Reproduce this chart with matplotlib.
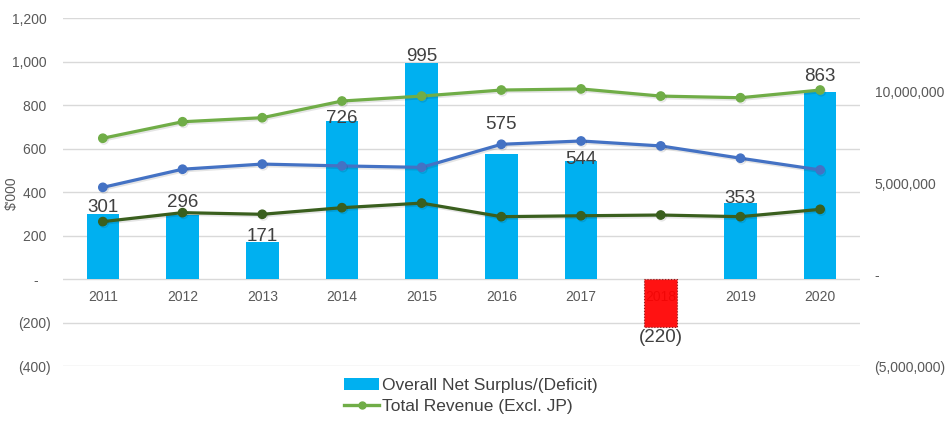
import matplotlib
matplotlib.use('Agg')
import matplotlib.pyplot as plt
import matplotlib.patheffects as pe
from matplotlib.patches import Patch
from matplotlib.lines import Line2D

# ---------------- data ----------------
years = ['2011', '2012', '2013', '2014', '2015', '2016', '2017', '2018', '2019', '2020']
net_surplus = [301, 296, 171, 726, 995, 575, 544, -220, 353, 863]          # $'000 (left axis)
total_revenue = [7.45e6, 8.35e6, 8.57e6, 9.48e6, 9.75e6, 10.08e6, 10.14e6, 9.75e6, 9.66e6, 10.08e6]
blue_series = [4.77e6, 5.76e6, 6.04e6, 5.94e6, 5.86e6, 7.12e6, 7.30e6, 7.03e6, 6.36e6, 5.72e6]
dark_series = [2.90e6, 3.39e6, 3.30e6, 3.66e6, 3.91e6, 3.17e6, 3.22e6, 3.26e6, 3.17e6, 3.57e6]
left_ticks = [-400, -200, 0, 200, 400, 600, 800, 1000, 1200]
right_ticks = [-5e6, 0, 5e6, 10e6]
bar_label = 'Overall Net Surplus/(Deficit)'
rev_label = 'Total Revenue (Excl. JP)'

# label offsets (pixels, layout only)
label_dy_px = [0, 7, 0, -3, 0, 24, -4, 0, -2, 9]

TICKF = ['Liberation Sans', 'DejaVu Sans']
REG = ['Liberation Sans', 'DejaVu Sans']
GRAY = '#595959'
DARK = '#404040'

fig = plt.figure(figsize=(9.47, 4.26), dpi=100)
ax = fig.add_axes([63/947, 1 - 366.4/426, 797/947, 348.2/426])
ax2 = ax.twinx()

x = list(range(len(years)))
colors = ['#FF0000' if v < 0 else '#00B0F0' for v in net_surplus]
bars = ax.bar(x, net_surplus, width=0.41, color=colors, zorder=3)
for b, v in zip(bars, net_surplus):
    if v < 0:
        b.set_edgecolor('#7a1a1a')
        b.set_linestyle(':')
        b.set_linewidth(0.8)
        b.set_alpha(0.93)

ax.set_xlim(-0.5, len(years) - 0.5)
ax.set_ylim(-400, 1200)
ax.set_yticks(left_ticks)

def lfmt(v):
    if v == 0:
        return '-   '
    if v < 0:
        return '({:,.0f})'.format(-v)
    return '{:,.0f} '.format(v)

ax.set_yticklabels([lfmt(v) for v in left_ticks], fontfamily=TICKF, fontsize=10, color=GRAY)
ax.tick_params(axis='y', length=0, pad=9)
ax.set_xticks([])
ax.grid(axis='y', color='#D9D9D9', linewidth=1)
ax.set_axisbelow(True)
for s in ax.spines.values():
    s.set_visible(False)

# year labels under the zero line
for i, yr in enumerate(years):
    ax.annotate(yr, (i, 0), xytext=(0, -8), textcoords='offset points',
                ha='center', va='top', fontfamily=TICKF, fontsize=10,
                color=GRAY, zorder=1)

# right axis
ax2.set_ylim(-5e6, 14e6)
ax2.set_yticks(right_ticks)

def rfmt(v):
    if v == 0:
        return '-'
    if v < 0:
        return '({:,.0f})'.format(-v)
    return '{:,.0f}'.format(v)

ax2.set_yticklabels([rfmt(v) for v in right_ticks], fontfamily=TICKF, fontsize=10, color=GRAY)
ax2.tick_params(axis='y', length=0, pad=10.5)
for s in ax2.spines.values():
    s.set_visible(False)

shadow = [pe.SimpleLineShadow(offset=(0.8, -1.2), shadow_color='black', alpha=0.1), pe.Normal()]
ax2.plot(x, dark_series, color='#3A5F1E', lw=2.3, marker='o', ms=6, zorder=4, path_effects=shadow)
ax2.plot(x, blue_series, color='#4472C4', lw=2.3, marker='o', ms=6, zorder=4, path_effects=shadow)
ax2.plot(x, total_revenue, color='#70AD47', lw=2.3, marker='o', ms=6, zorder=4, path_effects=shadow)

# data labels
for i, v in enumerate(net_surplus):
    txt = '{:,}'.format(v) if v >= 0 else '({:,})'.format(-v)
    if v >= 0:
        ax2.annotate(txt, (i, v), xycoords=ax.transData,
                     xytext=(0, label_dy_px[i] / 1.389 + 1), textcoords='offset points',
                     ha='center', va='baseline', fontfamily=REG, fontsize=13.5,
                     color=DARK, zorder=6)
    else:
        ax2.annotate(txt, (i, v), xycoords=ax.transData,
                     xytext=(0, -1), textcoords='offset points',
                     ha='center', va='top', fontfamily=REG, fontsize=13.5,
                     color=DARK, zorder=6)

fig.text(12/947, 1 - 193/426, "$'000", rotation=90, ha='center', va='center',
         fontfamily=TICKF, fontsize=10, color=GRAY)

handles = [Patch(facecolor='#00B0F0', edgecolor='none'),
           Line2D([0], [0], color='#70AD47', lw=2.4, marker='o', ms=5)]
fig.legend(handles, [bar_label, rev_label], loc='upper left',
           bbox_to_anchor=(332/947, 1 - 366/426), frameon=False,
           prop={'family': REG, 'size': 12.5}, labelcolor=DARK,
           handlelength=2.0, handleheight=0.7, handletextpad=0.2,
           labelspacing=0.3, borderpad=0.2)

fig.savefig('out.png', dpi=100, facecolor='white')
